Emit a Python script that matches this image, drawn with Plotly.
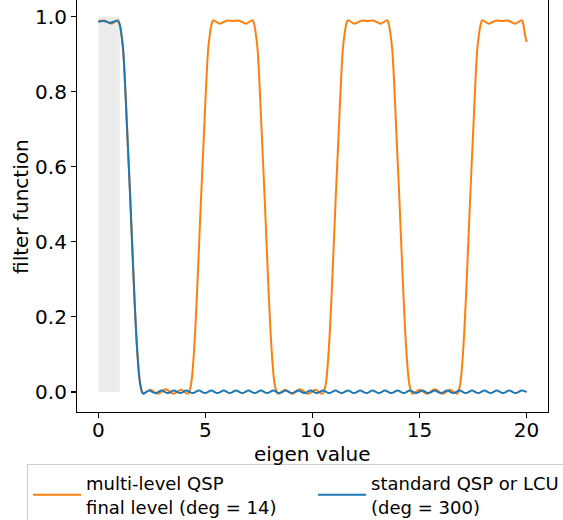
import plotly.graph_objects as go

# ---- data ----
orange_x = [0.00, 0.30, 0.62, 0.92, 1.00, 1.08, 1.15, 1.22, 1.34, 1.49, 1.62, 1.76, 1.90, 1.97,
            2.10, 2.42, 2.77, 3.14, 3.51, 3.86, 4.18,
            4.31, 4.38, 4.52, 4.66, 4.79, 4.94, 5.06, 5.13, 5.20, 5.28, 5.36, 5.66, 5.98, 6.28,
            6.58, 6.90, 7.20, 7.28, 7.36, 7.43, 7.50, 7.62, 7.77, 7.90, 8.04, 8.18, 8.25,
            8.39, 8.71, 9.06, 9.42, 9.79, 10.14, 10.46,
            10.60, 10.67, 10.81, 10.95, 11.08, 11.23, 11.35, 11.42, 11.49, 11.57, 11.65, 11.95, 12.27, 12.57,
            12.87, 13.19, 13.49, 13.57, 13.65, 13.72, 13.79, 13.91, 14.06, 14.19, 14.33, 14.47, 14.54,
            14.67, 14.99, 15.34, 15.71, 16.08, 16.43, 16.75,
            16.88, 16.95, 17.09, 17.23, 17.36, 17.51, 17.63, 17.70, 17.77, 17.85, 17.93, 18.23, 18.55, 18.85,
            19.15, 19.47, 19.77, 19.85, 19.93, 20.00]
orange_y = [0.988, 0.989, 0.981, 0.990, 0.978, 0.950, 0.915, 0.850, 0.700, 0.511, 0.334, 0.160, 0.045, 0.015,
            -0.005, 0.006, -0.005, 0.007, -0.005, 0.006, -0.005,
            0.015, 0.045, 0.160, 0.334, 0.511, 0.700, 0.850, 0.915, 0.950, 0.978, 0.990, 0.981, 0.989, 0.988,
            0.989, 0.981, 0.990, 0.978, 0.950, 0.915, 0.850, 0.700, 0.511, 0.334, 0.160, 0.045, 0.015,
            -0.005, 0.006, -0.005, 0.007, -0.005, 0.006, -0.005,
            0.015, 0.045, 0.160, 0.334, 0.511, 0.700, 0.850, 0.915, 0.950, 0.978, 0.990, 0.981, 0.989, 0.988,
            0.989, 0.981, 0.990, 0.978, 0.950, 0.915, 0.850, 0.700, 0.511, 0.334, 0.160, 0.045, 0.015,
            -0.005, 0.006, -0.005, 0.007, -0.005, 0.006, -0.005,
            0.015, 0.045, 0.160, 0.334, 0.511, 0.700, 0.850, 0.915, 0.950, 0.978, 0.990, 0.981, 0.989, 0.988,
            0.989, 0.981, 0.990, 0.978, 0.950, 0.932]

blue_x = [0.00, 0.25, 0.55, 0.88, 1.00, 1.08, 1.15, 1.22, 1.34, 1.49, 1.62, 1.76, 1.90, 1.97,
          2.08, 2.37, 2.66, 2.95, 3.24, 3.53, 3.82, 4.11, 4.40, 4.69, 4.98, 5.27, 5.56, 5.85,
          6.14, 6.43, 6.72, 7.01, 7.30, 7.59, 7.88, 8.17, 8.46, 8.75, 9.04, 9.33, 9.62, 9.91,
          10.20, 10.49, 10.78, 11.07, 11.36, 11.65, 11.94, 12.23, 12.52, 12.81, 13.10, 13.39,
          13.68, 13.97, 14.26, 14.55, 14.84, 15.13, 15.42, 15.71, 16.00, 16.29, 16.58, 16.87,
          17.16, 17.45, 17.74, 18.03, 18.32, 18.61, 18.90, 19.19, 19.48, 19.77, 20.00]
blue_y = [0.986, 0.988, 0.983, 0.989, 0.978, 0.950, 0.915, 0.850, 0.700, 0.511, 0.334, 0.160, 0.045, 0.015,
          -0.004, 0.004, -0.003, 0.004, -0.003, 0.004, -0.003, 0.004, -0.003, 0.004, -0.003, 0.004, -0.003, 0.004,
          -0.003, 0.004, -0.003, 0.004, -0.003, 0.004, -0.003, 0.004, -0.003, 0.004, -0.003, 0.004, -0.003, 0.004,
          -0.003, 0.004, -0.003, 0.004, -0.003, 0.004, -0.003, 0.004, -0.003, 0.004, -0.003, 0.004,
          -0.003, 0.004, -0.003, 0.004, -0.003, 0.004, -0.003, 0.004, -0.003, 0.004, -0.003, 0.004,
          -0.003, 0.004, -0.003, 0.004, -0.003, 0.004, -0.003, 0.004, -0.003, 0.004, 0.000]

shade_x = [0.0, 1.0]
shade_top = [1.0, 1.0]

x_ticks = [0, 5, 10, 15, 20]
y_ticks = [0.0, 0.2, 0.4, 0.6, 0.8, 1.0]

x_label = "eigen value"
y_label = "filter function"
orange_name = "multi-level QSP<br>final level (deg = 14)"
blue_name = "standard QSP or LCU<br>(deg = 300)"

FONT = "DejaVu Sans"

fig = go.Figure()
fig.add_trace(go.Scatter(x=shade_x, y=shade_top, mode="lines", fill="tozeroy",
                         fillcolor="rgba(128,128,128,0.15)", line=dict(width=0),
                         showlegend=False, hoverinfo="skip"))
fig.add_trace(go.Scatter(x=orange_x, y=orange_y, mode="lines", name=orange_name,
                         line=dict(color="#ff7f0e", width=2, shape="spline", smoothing=0.8),
                         legendwidth=222))
fig.add_trace(go.Scatter(x=blue_x, y=blue_y, mode="lines", name=blue_name,
                         line=dict(color="#1f77b4", width=2, shape="spline", smoothing=0.8),
                         legendwidth=192))

fig.update_layout(
    width=563, height=520,
    margin=dict(l=77, r=15, t=0, b=108, autoexpand=False),
    paper_bgcolor="white", plot_bgcolor="white",
    font=dict(family=FONT, size=20, color="black"),
    xaxis=dict(range=[-1, 21], tickvals=x_ticks, ticktext=[str(v) for v in x_ticks],
               showgrid=False, zeroline=False, showline=True, linecolor="black", linewidth=1.1,
               ticks="outside", ticklen=5, tickwidth=1.1, tickcolor="black", ticklabelstandoff=-5),
    yaxis=dict(range=[-0.0533, 1.044], tickvals=y_ticks, ticktext=["%.1f" % v for v in y_ticks],
               showgrid=False, zeroline=False, showline=True, mirror=True, linecolor="black", linewidth=1.1,
               ticks="outside", ticklen=5, tickwidth=1.1, tickcolor="black"),
    legend=dict(orientation="h", x=-0.106, xanchor="left", y=-0.126, yanchor="top",
                font=dict(size=18), bordercolor="#cccccc", borderwidth=1, itemwidth=48,
                bgcolor="rgba(255,255,255,0.8)", valign="middle"),
    annotations=[
        dict(text=x_label, xref="paper", yref="paper", x=0.5, y=-0.101,
             xanchor="center", yanchor="middle", showarrow=False, font=dict(size=20)),
        dict(text=y_label, xref="paper", yref="paper", x=-0.119, y=0.5, textangle=-90,
             xanchor="center", yanchor="middle", showarrow=False, font=dict(size=20)),
    ],
)

fig.write_html("out.html", config={"displayModeBar": False, "staticPlot": True},
               post_script="document.body.style.margin='0px';")
